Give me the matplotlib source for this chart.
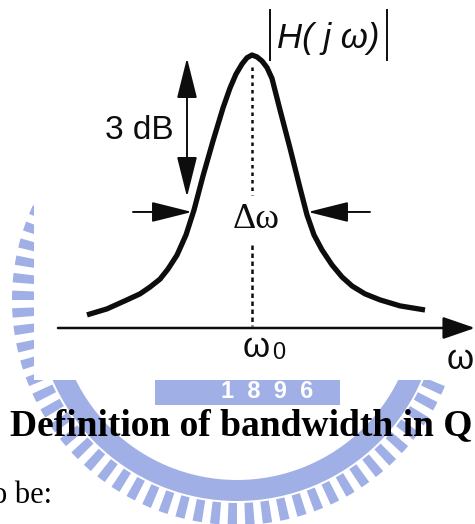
import numpy as np
import matplotlib.pyplot as plt
from matplotlib.patches import Rectangle, Wedge

# resonance curve, normalized frequency (w0 = 1) against |H(jw)| (peak = 1)
omega = [0.175, 0.275, 0.375, 0.44, 0.49, 0.54, 0.58, 0.625, 0.67, 0.71,
         0.755, 0.805, 0.855, 0.89, 0.92, 0.95, 0.975, 1.0, 1.025, 1.05,
         1.075, 1.10, 1.14, 1.19, 1.24, 1.275, 1.31, 1.35, 1.40, 1.45,
         1.50, 1.565, 1.64, 1.74, 1.865]
mag = [0.048, 0.070, 0.103, 0.125, 0.150, 0.179, 0.216, 0.267, 0.341, 0.432,
       0.557, 0.685, 0.806, 0.879, 0.930, 0.967, 0.990, 1.0, 0.993, 0.978,
       0.954, 0.914, 0.799, 0.659, 0.513, 0.414, 0.341, 0.286, 0.231, 0.187,
       0.154, 0.125, 0.103, 0.081, 0.066]

w0 = 1.0
half_power = 0.425      # level of the bandwidth arrows
w_lo, w_hi = 0.70, 1.28  # curve crossings at that level
axis_span = (0.03, 2.115)

title = "Definition of bandwidth in Q"
body = "o be:"
year = "1  8  9  6"

fig = plt.figure(figsize=(4.75, 5.24), dpi=100)

# page layer in pixel units: watermark, picture backdrop, slide text
ax = fig.add_axes([0, 0, 1, 1])
ax.set_xlim(0, 475)
ax.set_ylim(524, 0)
ax.set_aspect('equal')
ax.axis('off')

wm = '#a0afe6'
ctr = (237, 300)
ax.add_patch(Wedge(ctr, 201, 0, 360, width=21, color=wm, lw=0, zorder=0))
for a in np.arange(0, 360, 4.5):
    ax.add_patch(Wedge(ctr, 225, a, a + 2.4, width=22, color=wm, lw=0, zorder=0))
ax.add_patch(Rectangle((155, 378), 185, 27, color=wm, lw=0, zorder=0))
ax.text(267, 392, year, color='white', fontsize=17, fontweight='bold',
        family='Liberation Sans', ha='center', va='center', zorder=0.5)

# the diagram sits on a white picture covering part of the emblem
ax.add_patch(Rectangle((34, 0), 441, 380, color='white', lw=0, zorder=1))

ax.text(10, 435, title, family='Liberation Serif', fontweight='bold',
        fontsize=27, va='baseline', zorder=3)
ax.text(-8, 503, body, family='Liberation Serif', fontsize=22,
        va='baseline', zorder=3)

# response layer in (omega, |H|) units
ah = fig.add_axes([0, 0, 1, 1])
ah.set_xlim(-0.26, 2.115)
ah.set_ylim(-0.718, 1.2015)
ah.axis('off')
ah.patch.set_alpha(0)

ink = '#0d0d0d'
ah.plot(omega, mag, color=ink, lw=3.8, solid_joinstyle='round',
        solid_capstyle='butt')

# frequency axis
ah.annotate('', xy=(axis_span[1], 0), xytext=(axis_span[0], 0),
            arrowprops=dict(arrowstyle='-|>,head_length=1.1,head_width=0.38',
                            mutation_scale=18, lw=1.8, color=ink,
                            shrinkA=0, shrinkB=0))

# center frequency marker, broken around the bandwidth label
ah.plot([w0, w0], [0.956, 0.487], color=ink, lw=1.8, ls=(0, (1.4, 1.6)))
ah.plot([w0, w0], [0.304, 0.007], color=ink, lw=1.8, ls=(0, (1.8, 1.4)))

arrow = dict(arrowstyle='-|>,head_length=1.4,head_width=0.35',
             mutation_scale=18, lw=1.4, color=ink, shrinkA=0, shrinkB=0)
ah.annotate('', xy=(w_lo, half_power), xytext=(0.405, half_power),
            arrowprops=arrow)
ah.annotate('', xy=(w_hi, half_power), xytext=(1.59, half_power),
            arrowprops=arrow)
ah.annotate('', xy=(0.675, 0.989), xytext=(0.675, 0.480),
            arrowprops=dict(arrow, arrowstyle='<|-|>,head_length=1.4,head_width=0.35'))

sans = 'Liberation Sans'
ah.text(0.435, 0.725, '3 dB', family=sans, fontsize=24, ha='center',
        va='center', color=ink)
ah.text(1.02, 0.399, 'Δω', family='Liberation Serif', fontsize=26,
        ha='center', va='center', color=ink)
ah.text(1.02, -0.073, 'ω', family=sans, fontsize=25, ha='center',
        va='center', color=ink)
ah.text(1.1325, -0.092, '0', family=sans, fontsize=17, ha='center',
        va='center', color=ink)
ah.text(2.04, -0.114, 'ω', family=sans, fontsize=25, ha='center',
        va='center', color=ink)

# |H(jw)| with tall magnitude bars
ah.text(1.38, 1.062, 'H( j ω)', family=sans, style='italic', fontsize=25,
        ha='center', va='center', color=ink)
ah.plot([1.09, 1.09], [0.982, 1.165], color=ink, lw=1.4)
ah.plot([1.675, 1.675], [0.982, 1.165], color=ink, lw=1.4)

fig.savefig('out.png', dpi=100)
